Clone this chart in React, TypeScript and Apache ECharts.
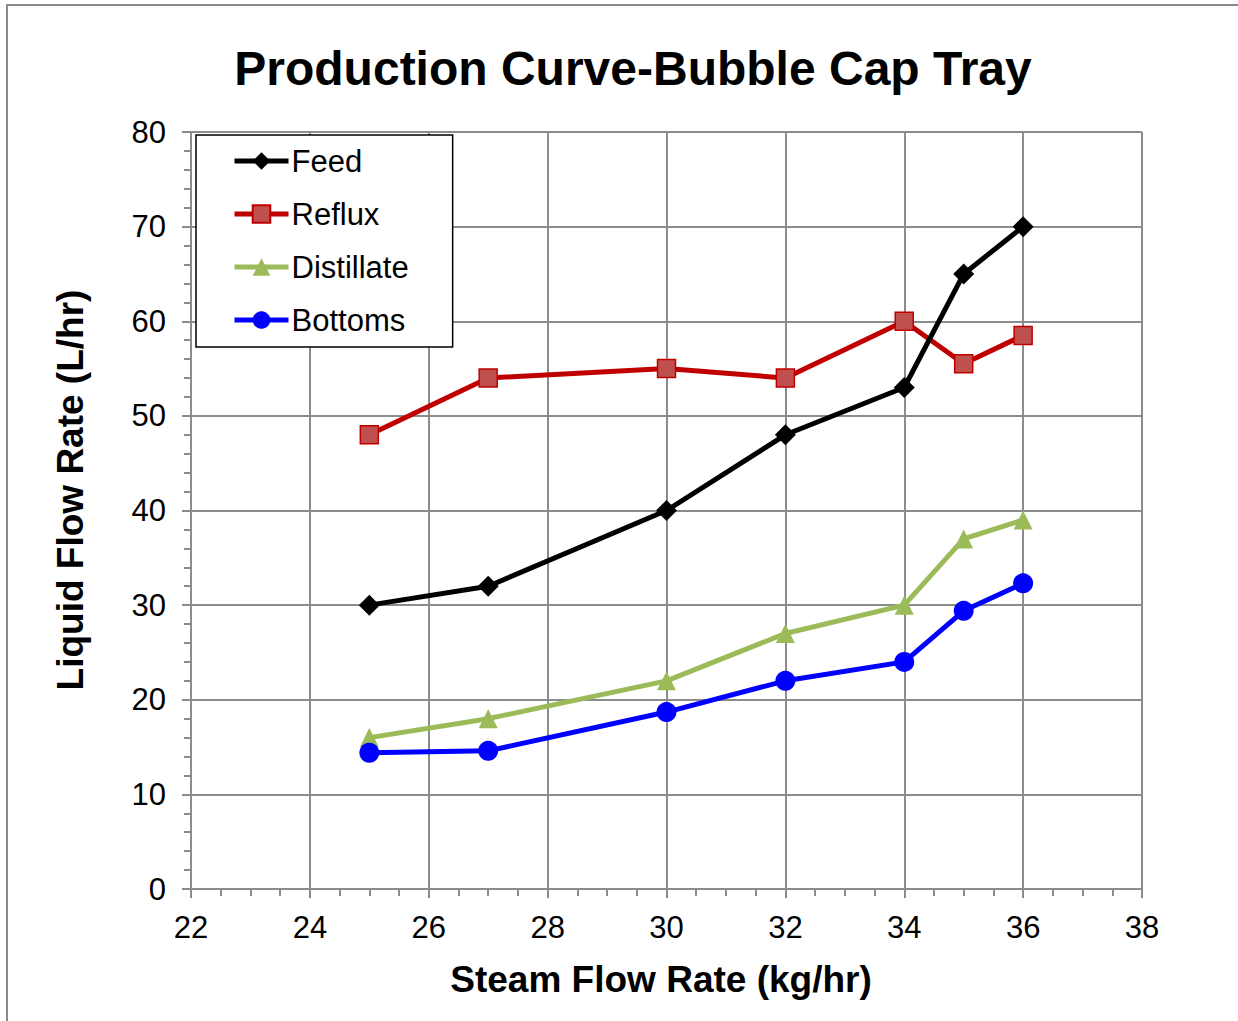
import React, { useEffect, useRef } from "react";
import * as echarts from "echarts";

const steam = [25, 27, 30, 32, 34, 35, 36];
const feed = [30, 32, 40, 48, 53, 65, 70];
const reflux = [48, 54, 55, 54, 60, 55.5, 58.5];
const distillate = [16, 18, 22, 27, 30, 37, 39];
const bottoms = [14.4, 14.6, 18.7, 22, 24, 29.4, 32.3];

const FONT = "Liberation Sans, Arial, sans-serif";
const GRID_COLOR = "#8c8c8c";

const pairs = (ys: number[]) => steam.map((x, i) => [x, ys[i]]);

export default function App() {
  const ref = useRef<HTMLDivElement>(null);
  useEffect(() => {
    if (!ref.current) return;
    const chart = echarts.init(ref.current, undefined, { renderer: "svg" });
    chart.setOption({
      animation: false,
      backgroundColor: "#fff",
      textStyle: { fontFamily: FONT },
      grid: { left: 191, top: 132, width: 951, height: 757, containLabel: false },
      graphic: [
        {
          type: "rect",
          shape: { x: 7, y: 5, width: 1300, height: 1100 },
          style: { fill: "none", stroke: "#8a8a8a", lineWidth: 2 },
          silent: true,
        },
        {
          type: "text",
          x: 633,
          y: 68,
          style: {
            text: "Production Curve-Bubble Cap Tray",
            font: `bold 48px ${FONT}`,
            fill: "#000",
            align: "center",
            verticalAlign: "middle",
          },
        },
        {
          type: "text",
          x: 661,
          y: 979,
          style: {
            text: "Steam Flow Rate (kg/hr)",
            font: `bold 37px ${FONT}`,
            fill: "#000",
            align: "center",
            verticalAlign: "middle",
          },
        },
        {
          type: "text",
          x: 70,
          y: 490,
          rotation: Math.PI / 2,
          style: {
            text: "Liquid Flow Rate (L/hr)",
            font: `bold 37px ${FONT}`,
            fill: "#000",
            align: "center",
            verticalAlign: "middle",
          },
        },
      ],
      legend: {
        orient: "vertical",
        left: 196,
        top: 135,
        backgroundColor: "#fff",
        borderColor: "#000",
        borderWidth: 1.5,
        padding: [10, 44, 11, 36],
        itemWidth: 54,
        itemHeight: 22,
        itemGap: 21,
        lineStyle: { width: 5 },
        textStyle: { fontSize: 31, color: "#000", fontFamily: FONT, padding: [0, 0, 0, -2], lineHeight: 32 },
        data: ["Feed", "Reflux", "Distillate", "Bottoms"],
      },
      xAxis: {
        type: "value",
        min: 22,
        max: 38,
        interval: 2,
        axisLine: { show: true, onZero: false, lineStyle: { color: GRID_COLOR, width: 2 } },
        axisTick: { show: true, length: 9, lineStyle: { color: GRID_COLOR, width: 2 } },
        minorTick: { show: true, splitNumber: 4, length: 7, lineStyle: { color: GRID_COLOR, width: 2 } },
        splitLine: { show: true, lineStyle: { color: GRID_COLOR, width: 2 } },
        axisLabel: { fontSize: 31, color: "#000", margin: 23, fontFamily: FONT },
      },
      yAxis: {
        type: "value",
        min: 0,
        max: 80,
        interval: 10,
        axisLine: { show: true, lineStyle: { color: GRID_COLOR, width: 2 } },
        axisTick: { show: true, length: 9, lineStyle: { color: GRID_COLOR, width: 2 } },
        minorTick: { show: true, splitNumber: 5, length: 7, lineStyle: { color: GRID_COLOR, width: 2 } },
        splitLine: { show: true, lineStyle: { color: GRID_COLOR, width: 2 } },
        axisLabel: { fontSize: 31, color: "#000", margin: 25, fontFamily: FONT },
      },
      series: [
        {
          name: "Feed",
          type: "line",
          data: pairs(feed),
          symbol: "diamond",
          symbolSize: 21,
          lineStyle: { color: "#000", width: 5 },
          itemStyle: { color: "#000" },
          z: 4,
        },
        {
          name: "Reflux",
          type: "line",
          data: pairs(reflux),
          symbol: "rect",
          symbolSize: 18,
          lineStyle: { color: "#c00000", width: 5 },
          itemStyle: { color: "#c0504d", borderColor: "#c00000", borderWidth: 1.5 },
          z: 3,
        },
        {
          name: "Distillate",
          type: "line",
          data: pairs(distillate),
          symbol: "triangle",
          symbolSize: 19,
          lineStyle: { color: "#9bbb59", width: 5 },
          itemStyle: { color: "#9bbb59" },
          z: 2,
        },
        {
          name: "Bottoms",
          type: "line",
          data: pairs(bottoms),
          symbol: "circle",
          symbolSize: 20,
          lineStyle: { color: "#0000ff", width: 5 },
          itemStyle: { color: "#0000ff" },
          z: 2,
        },
      ],
    });
    return () => chart.dispose();
  }, []);
  return (
    <div
      ref={ref}
      style={{ position: "fixed", left: 0, top: 0, width: 1238, height: 1021 }}
    />
  );
}
